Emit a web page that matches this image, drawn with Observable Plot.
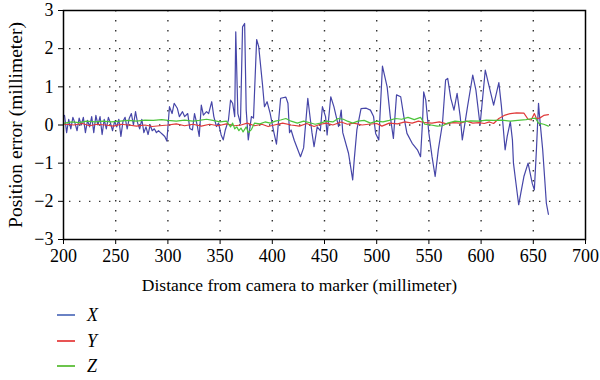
<!DOCTYPE html>
<html><head><meta charset="utf-8">
<script src="https://cdn.jsdelivr.net/npm/d3@7"></script>
<script src="https://cdn.jsdelivr.net/npm/@observablehq/plot@0.6"></script>
<style>
body{margin:0;background:#fff;font-family:"Liberation Serif",serif;}
#wrap{position:relative;width:600px;height:380px;}
#legend{position:absolute;left:0;top:300px;width:200px;height:80px;}
.item{position:absolute;left:57px;height:26px;}
.item .sw{position:absolute;left:0;top:12px;width:18px;height:2px;}
.item .lb{position:absolute;left:30px;top:0;font-style:italic;font-size:18px;line-height:26px;color:#000;}
</style></head><body>
<div id="wrap"><div id="chart"></div><div id="legend"></div></div>
<script>
// Series X
const xDist = [201,203,205,207,209,211,213,215,217,219,221,223,225,227,229,231,233,235,237,239,241,243,245,247,249,251,253,255,257,259,261,263,265,267,269,271,273,275,277,279,281,283,285,287,289,291,293,295,297,299,
301.5,304,306,309,311,314,316,319,321,323.5,325.5,328,330,332,334,337,339,342,344,346.5,348.5,351,353,355,358,360,362,364,365,367,369.5,371.5,373.5,375,377,380,382,385,387,390.5,392.5,395,398,401,404,408,413,415,416.5,418,421,427,430,434,436.5,438,440,443,446,448,451,452.5,456,459,462,463.5,466,467.5,473,477,478.5,481,485,490,494,497,499,502,505.5,510,513,516,519,523,526,529,534,539,542,544,545,547,550,553,556,559,563,566,568,571,574,577,580,582,587,592,595,599,601,604,607,612,617,619.5,623,625,628,630,631,633,636,638,641,645,649,651,653,655,656,659,661,662.5,664.5];
const xErr = [0.25,-0.2,0.15,-0.1,0.2,0.05,-0.15,0.18,0.0,0.2,-0.2,0.12,-0.05,0.22,-0.2,0.25,0.0,0.22,-0.25,0.15,-0.1,0.2,0.05,-0.15,0.1,-0.05,0.15,-0.3,0.1,0.2,-0.1,0.18,0.3,0.0,0.35,0.05,-0.1,0.15,-0.2,-0.05,-0.25,0.0,-0.15,-0.1,-0.2,-0.15,-0.2,-0.25,-0.3,-0.42,
0.48,0.3,0.57,0.44,0.22,0.35,0.22,0.3,-0.09,-0.13,0.3,0.0,-0.3,0.52,0.26,0.35,0.3,0.61,0.22,-0.04,0.05,-0.26,-0.39,-0.13,0.13,0.65,0.57,0.22,2.44,0.3,0.04,2.57,2.66,0.39,-0.39,0.22,0.18,2.24,2.05,1.09,0.48,0.61,0.3,-0.13,-0.5,0.7,0.73,0.57,-0.2,-0.13,-0.4,-0.83,-0.6,0.7,0.13,-0.2,-0.57,-0.05,-0.15,0.48,0.22,-0.26,0.74,0.48,0.13,-0.04,0.39,-0.2,-0.74,-1.44,-0.9,-0.13,0.43,0.44,0.39,0.22,-0.22,-0.39,1.54,1.0,0.22,-0.35,0.79,0.74,0.22,-0.22,-0.48,-0.65,-0.83,0.13,0.87,0.65,-0.22,-0.83,-1.35,-0.65,0.04,1.18,1.22,0.7,0.39,0.83,0.22,-0.39,0.48,1.31,0.92,0.0,0.57,1.44,1.09,0.52,1.11,0.48,-0.65,-0.3,0.09,-0.39,-1.0,-1.44,-2.09,-1.79,-1.35,-1.0,-1.53,-1.7,-0.65,0.57,0.22,-0.65,-1.44,-2.05,-2.34];
// Series Y
const yDist = [201,210,218,225,232,240,248,255,262,270,278,285,292,300,308,316,324,332,340,348,356,364,370,376,383,390,396,402,410,418,426,433,440,446,452,458,466,472,478,486,492,500,505,512,520,527,534,540,546,553,560,567,573,580,586,592,598,603,608,612,617,623,628,634,641,645,648,651,653,656,660,664.5];
const yErr = [0.02,0.0,0.04,-0.02,0.02,0.0,-0.03,0.02,0.0,-0.03,0.0,-0.04,-0.02,0.0,0.03,-0.02,0.02,-0.03,0.02,-0.02,0.03,-0.02,0.0,0.05,-0.02,0.02,-0.04,0.0,0.05,0.0,-0.03,0.04,-0.04,0.02,0.05,0.0,0.08,0.02,0.05,0.0,0.02,0.04,-0.03,0.05,0.03,0.08,0.05,0.1,0.06,0.05,0.08,0.03,0.06,0.05,0.1,0.05,0.06,0.04,0.08,0.04,0.17,0.26,0.3,0.32,0.31,0.15,0.13,0.3,0.17,0.18,0.25,0.27];
// Series Z
const zDist = [201,208,215,222,230,238,246,254,262,270,278,286,294,300,308,316,324,330,337,343,350,356,360,362,364,366,368,370,372,375,377,380,383,388,393,398,403,408,413,418,424,430,436,441,446,452,458,463,468,472,477,482,488,494,500,506,512,518,524,530,536,542,546,552,558,563,568,575,582,590,598,605,612,620,628,635,643,649,652,655,660,664.5];
const zErr = [0.05,0.08,0.06,0.1,0.08,0.1,0.08,0.1,0.12,0.1,0.13,0.12,0.14,0.12,0.1,0.13,0.1,0.12,0.15,0.12,0.08,0.1,-0.05,0.05,-0.1,-0.05,-0.15,-0.08,-0.18,-0.05,-0.2,-0.12,0.05,0.03,0.08,0.05,0.1,0.13,0.17,0.1,0.05,0.1,0.06,0.02,0.05,0.1,0.08,0.17,0.15,0.1,0.05,0.1,0.12,0.05,0.1,0.08,0.12,0.17,0.15,0.2,0.14,0.2,0.02,0.0,-0.03,-0.02,0.05,0.1,0.08,0.11,0.1,0.13,0.12,0.13,0.1,0.12,0.14,0.17,0.18,0.05,0.02,-0.03];

const xTicks = [200,250,300,350,400,450,500,550,600,650,700];
const yTicks = [-3,-2,-1,0,1,2,3];
const seriesNames = ["X","Y","Z"];
const seriesColors = ["#4646a8","#e03a3a","#4cc43a"];
const legendColors = ["#6a82c4","#e85454","#6cc44c"];
const xLabel = "Distance from camera to marker (millimeter)";
const yLabel = "Position error (millimeter)";

const toRows = (ds, es) => ds.map((d, i) => ({d, e: es[i]}));
const rowsX = toRows(xDist, xErr), rowsY = toRows(yDist, yErr), rowsZ = toRows(zDist, zErr);
const fmt = v => v < 0 ? "\u2212" + Math.abs(v) : String(v);

const fig = Plot.plot({
  width: 600, height: 300,
  marginLeft: 63, marginRight: 15, marginTop: 10, marginBottom: 61,
  style: {fontFamily: "Liberation Serif, serif", fontSize: "18px", color: "#000", background: "#fff", overflow: "visible"},
  x: {domain: [200, 700]},
  y: {domain: [-3, 3]},
  marks: [
    Plot.gridX(xTicks.slice(1, -1), {stroke: "#333", strokeOpacity: 1, strokeWidth: 1.4, strokeDasharray: "1.4,8.6"}),
    Plot.gridY(yTicks.slice(1, -1), {stroke: "#333", strokeOpacity: 1, strokeWidth: 1.4, strokeDasharray: "1.4,8.6", strokeDashoffset: -6}),
    Plot.line(rowsX, {x: "d", y: "e", stroke: seriesColors[0], strokeWidth: 1.2}),
    Plot.line(rowsY, {x: "d", y: "e", stroke: seriesColors[1], strokeWidth: 1.2}),
    Plot.line(rowsZ, {x: "d", y: "e", stroke: seriesColors[2], strokeWidth: 1.2}),
    Plot.frame({stroke: "#000", strokeWidth: 1.5}),
    Plot.axisX({ticks: xTicks, tickSize: 5, tickPadding: 5, tickFormat: d => String(d), label: null}),
    Plot.axisY({ticks: yTicks, tickSize: 5, tickPadding: 5, tickFormat: fmt, label: null}),
    Plot.text([xLabel], {text: d => d, frameAnchor: "bottom", textAnchor: "middle", dx: -25, dy: 51, fontSize: 17.5}),
    Plot.text([yLabel], {text: d => d, frameAnchor: "left", textAnchor: "middle", dx: -48, rotate: -90, fontSize: 19.5})
  ]
});
document.getElementById("chart").appendChild(fig);

const leg = document.getElementById("legend");
const tops = [2, 28, 53];
seriesNames.forEach((n, i) => {
  const it = document.createElement("div");
  it.className = "item";
  it.style.top = tops[i] + "px";
  it.innerHTML = `<div class="sw" style="background:${legendColors[i]}"></div><div class="lb">${n}</div>`;
  leg.appendChild(it);
});
</script>
</body></html>
